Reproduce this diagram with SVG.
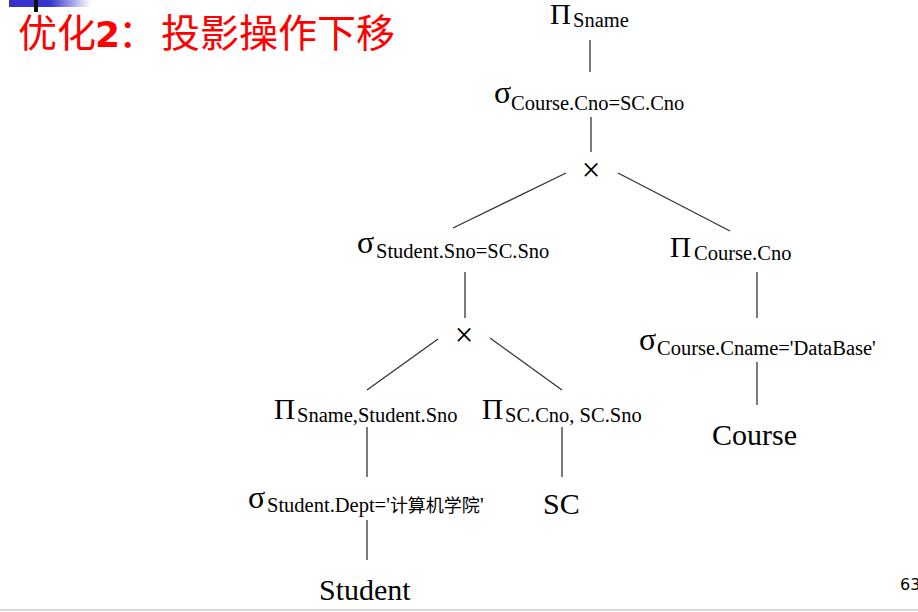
<svg xmlns="http://www.w3.org/2000/svg" width="918" height="612" viewBox="0 0 918 612">
<defs>
<linearGradient id="bar" x1="0" y1="0" x2="1" y2="0">
<stop offset="0" stop-color="#3333cc"/>
<stop offset="0.5" stop-color="#3535cc"/>
<stop offset="1" stop-color="#ffffff"/>
</linearGradient>
<style>
.t{font-family:"Liberation Serif","Times New Roman","DejaVu Serif",serif;fill:#000}
.big{font-size:30px}
.pi{font-size:29px}
.sg{font-size:32px}
.sub{font-size:20.5px}
.cjk{font-size:18px;font-family:"Noto Sans CJK SC",sans-serif}
.x{font-size:33px;text-anchor:middle}
.title{font-family:"Noto Sans CJK SC",sans-serif;font-size:39px;fill:#ff0000}
.c line{stroke:#333;stroke-width:1.3}
</style>
</defs>
<rect width="918" height="612" fill="#fff"/>
<rect x="9" y="0" width="82" height="7" fill="url(#bar)"/>
<rect x="34" y="0" width="4" height="12" fill="#111"/>
<line x1="0" y1="610" x2="918" y2="610" stroke="#c8c8c8" stroke-width="1.5"/>
<g id="title">
<text class="title" y="47"><tspan x="18">优化</tspan><tspan x="95" font-family="DejaVu Sans,sans-serif" font-weight="bold" font-size="36">2</tspan><tspan x="118">：</tspan><tspan x="161">投影操作下移</tspan></text>
</g>
<text x="900" y="590" font-family="DejaVu Sans,sans-serif" font-size="16" fill="#000">63</text>
<g class="c" id="connectors">
<line x1="590" y1="40" x2="590" y2="72"/>
<line x1="591" y1="117" x2="591" y2="152"/>
<line x1="566" y1="173" x2="453" y2="228"/>
<line x1="618" y1="173" x2="730" y2="231"/>
<line x1="465" y1="272" x2="465" y2="318"/>
<line x1="757" y1="272" x2="757" y2="318"/>
<line x1="438" y1="339" x2="367" y2="390"/>
<line x1="490" y1="338" x2="562" y2="390"/>
<line x1="367" y1="427" x2="367" y2="477"/>
<line x1="562" y1="427" x2="562" y2="477"/>
<line x1="757" y1="362" x2="757" y2="405"/>
<line x1="367" y1="520" x2="367" y2="560"/>
</g>
<g id="n1"><text class="t pi" x="550" y="24">Π</text><text class="t sub" x="573" y="27">Sname</text></g>
<g id="n2"><text class="t sg" x="494" y="103">σ</text><text class="t sub" x="511" y="110">Course.Cno=SC.Cno</text></g>
<g id="n3"><text class="t x" x="591" y="181">×</text></g>
<g id="n4"><text class="t sg" x="357" y="253">σ</text><text class="t sub" x="376" y="258">Student.Sno=SC.Sno</text></g>
<g id="n5"><text class="t pi" x="670" y="257">Π</text><text class="t sub" x="694" y="260">Course.Cno</text></g>
<g id="n6"><text class="t x" x="464" y="346">×</text></g>
<g id="n7"><text class="t pi" x="274" y="419">Π</text><text class="t sub" x="297" y="422">Sname,Student.Sno</text></g>
<g id="n8"><text class="t pi" x="482" y="419">Π</text><text class="t sub" x="505" y="422">SC.Cno, SC.Sno</text></g>
<g id="n9"><text class="t sg" x="639" y="350">σ</text><text class="t sub" x="657" y="355">Course.Cname='DataBase'</text></g>
<g id="n10"><text class="t sg" x="248" y="508">σ</text><text class="t sub" x="267" y="512">Student.Dept='<tspan class="cjk">计算机学院</tspan>'</text></g>
<g id="n11"><text class="t big" x="543" y="514">SC</text></g>
<g id="n12"><text class="t big" x="712" y="445">Course</text></g>
<g id="n13"><text class="t big" x="319" y="600">Student</text></g>
</svg>
